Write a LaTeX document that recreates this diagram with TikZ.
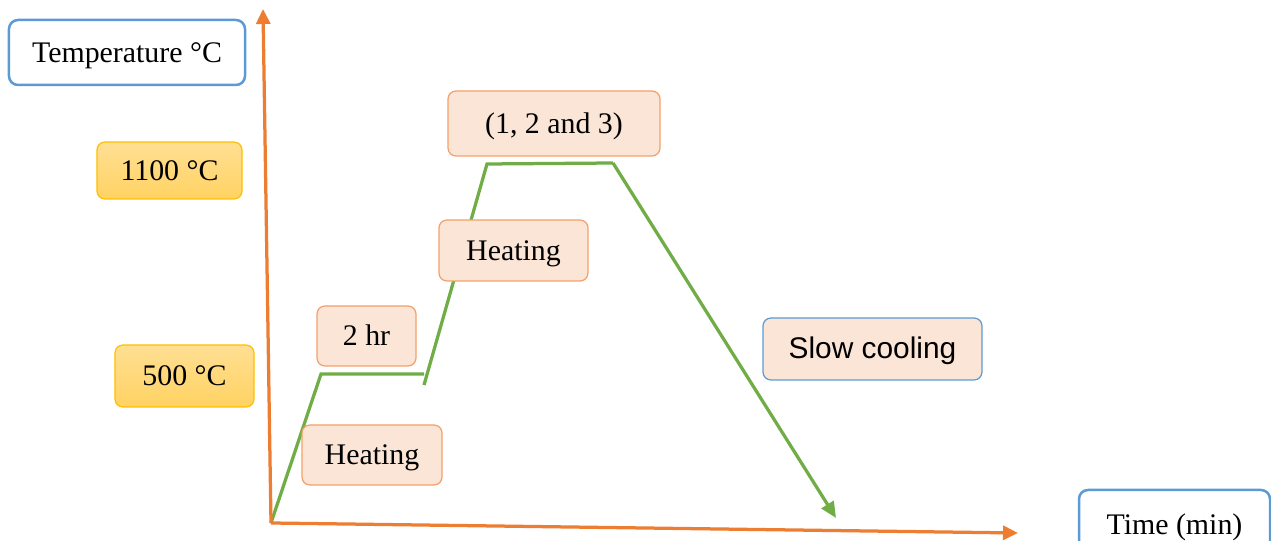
\documentclass[tikz,border=0pt]{standalone}
\usepackage{fontspec}
\setmainfont{Liberation Serif}
\setsansfont{Liberation Sans}
\usetikzlibrary{arrows.meta}
\definecolor{axisorange}{HTML}{ED7D31}
\definecolor{linegreen}{HTML}{70AD47}
\definecolor{peach}{HTML}{FBE5D6}
\definecolor{peachline}{HTML}{F4A06A}
\definecolor{goldline}{HTML}{FFC000}
\definecolor{blueline}{HTML}{5B9BD5}
\definecolor{goldtop}{HTML}{FFDF93}
\definecolor{goldbot}{HTML}{FFD262}
\tikzstyle{axisbox} = [rectangle, draw=blueline, line width=0.5mm, fill=white,
    rounded corners=1.8mm, text centered, text height=14pt, text depth=3pt,
    font=\fontsize{17}{20}\selectfont]
\tikzstyle{tempbox} = [rectangle, draw=goldline, line width=0.25mm, top color=goldtop,
    bottom color=goldbot, rounded corners=1.6mm, text centered, text height=14pt,
    text depth=3pt, font=\fontsize{17}{20}\selectfont]
\tikzstyle{stagebox} = [rectangle, draw=peachline, line width=0.25mm, fill=peach,
    rounded corners=1.6mm, text centered, text height=14pt, text depth=3pt,
    font=\fontsize{17}{20}\selectfont]

\begin{document}
\begin{tikzpicture}[
x=0.2mm, y=-0.2mm,
axis/.style = {draw=axisorange, line width=0.65mm, -{Triangle[length=3mm,width=2.8mm]}},
curve/.style = {draw=linegreen, line width=0.65mm}
                        ]
\useasboundingbox (0,0) rectangle (1271,541);
% profile
\coordinate (o) at (271,523);
\coordinate (ytip) at (263,9);
\coordinate (xtip) at (1018,533);
\coordinate (a1) at (321,374);
\coordinate (a2) at (424,374);
\coordinate (b1) at (424,385);
\coordinate (b2) at (487,164);
\coordinate (b3) at (613,163);
\coordinate (c1) at (836,518);
\draw [curve] (o) -- (a1) -- (a2);
\draw [curve] (b1) -- (b2) -- (b3);
\draw [curve, -{Triangle[length=3.2mm,width=2.8mm]}] (b3) -- (c1);
\draw [axis] (o) -- (ytip);
\draw [axis] (o) -- (xtip);
% boxes
\node [axisbox, minimum width=47.2mm, minimum height=13mm] (ttl) at (127,52.5) {Temperature °C};
\node [axisbox, minimum width=38.2mm, minimum height=14mm] (tim) at (1174.5,525) {Time (min)};
\node [tempbox, minimum width=29mm, minimum height=11.4mm] (hi) at (169.5,170.5) {1100 °C};
\node [tempbox, minimum width=27.8mm, minimum height=12.4mm] (lo) at (184.5,376) {500 °C};
\node [stagebox, minimum width=28mm, minimum height=12mm] (heatA) at (372,455) {Heating};
\node [stagebox, minimum width=19.8mm, minimum height=12mm] (dwell) at (366.5,336) {2 hr};
\node [stagebox, minimum width=29.8mm, minimum height=12.2mm] (heatB) at (513.5,250.5) {Heating};
\node [stagebox, minimum width=42.4mm, minimum height=13mm] (hold) at (554,123.5) {(1, 2 and 3)};
\node [stagebox, draw=blueline, minimum width=43.8mm, minimum height=12.4mm, font=\sffamily\fontsize{17}{20}\selectfont] (cool) at (872.5,349) {Slow cooling};
\end{tikzpicture}
\end{document}
